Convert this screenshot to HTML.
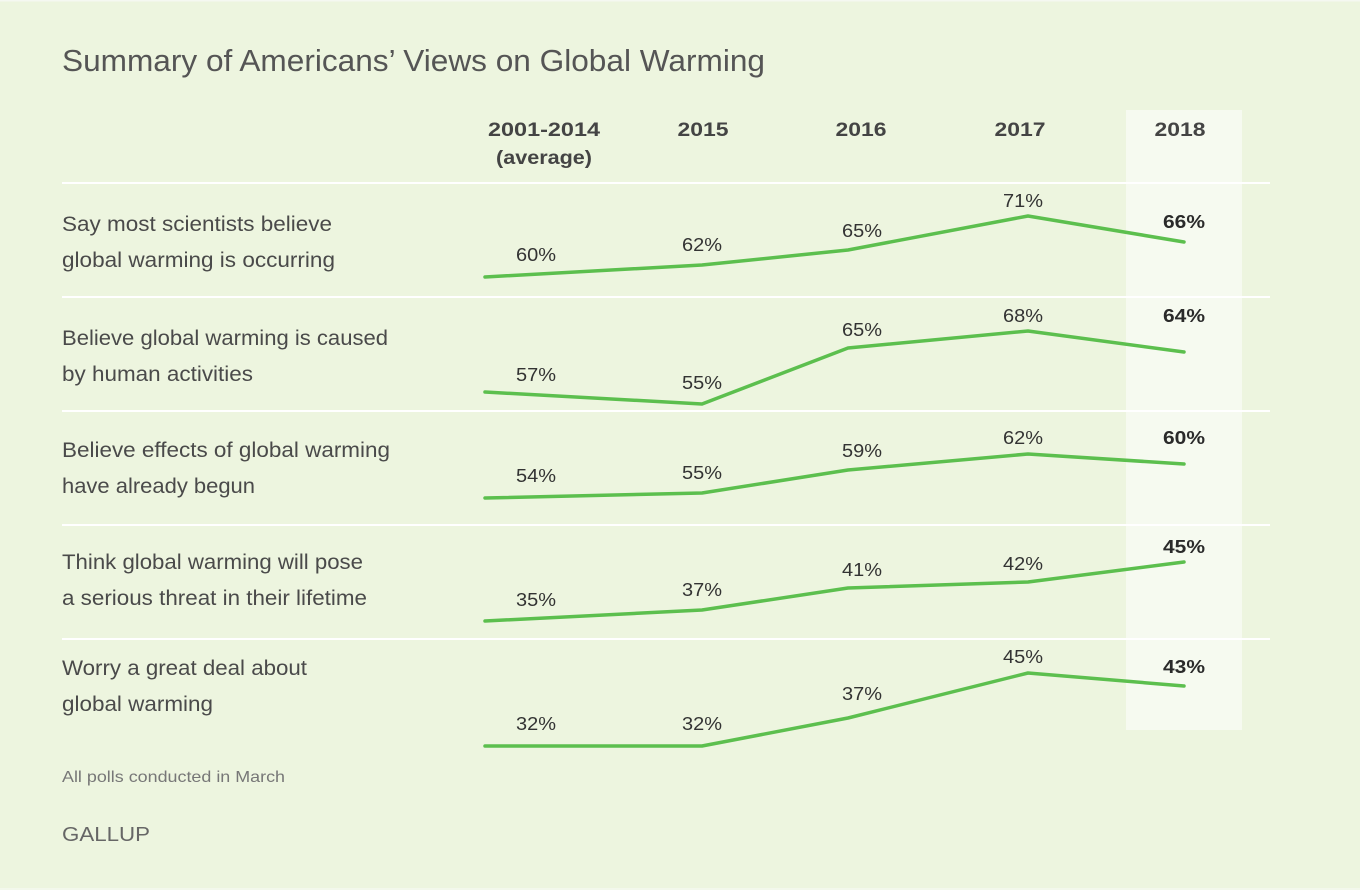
<!DOCTYPE html>
<html><head><meta charset="utf-8"><style>
html,body{margin:0;padding:0;width:1360px;height:890px;overflow:hidden;background:#EDF5DF;}
svg{display:block;}
</style></head><body>
<svg width="1360" height="890" viewBox="0 0 1360 890" xmlns="http://www.w3.org/2000/svg" font-family="'Liberation Sans', sans-serif">
<rect x="0" y="0" width="1360" height="890" fill="#EDF5DF"/>
<rect x="0" y="0" width="1360" height="1.5" fill="#F5F8F1"/>
<rect x="0" y="888" width="1360" height="2" fill="#F3F8EC"/>
<rect x="1126" y="110" width="116" height="620" fill="#F6FAF0"/>
<text x="62" y="71" font-size="31" fill="#555" textLength="703" lengthAdjust="spacingAndGlyphs">Summary of Americans’ Views on Global Warming</text>
<g font-weight="bold" font-size="19" fill="#444" text-anchor="middle">
<text x="544" y="136" textLength="112" lengthAdjust="spacingAndGlyphs">2001-2014</text>
<text x="544" y="164" textLength="96" lengthAdjust="spacingAndGlyphs">(average)</text>
<text x="703" y="136" textLength="51" lengthAdjust="spacingAndGlyphs">2015</text>
<text x="861" y="136" textLength="51" lengthAdjust="spacingAndGlyphs">2016</text>
<text x="1020" y="136" textLength="51" lengthAdjust="spacingAndGlyphs">2017</text>
<text x="1180" y="136" textLength="51" lengthAdjust="spacingAndGlyphs">2018</text>
</g>
<g stroke="#FFFFFF" stroke-width="2">
<line x1="62" y1="183" x2="1270" y2="183"/>
<line x1="62" y1="297" x2="1270" y2="297"/>
<line x1="62" y1="411" x2="1270" y2="411"/>
<line x1="62" y1="525" x2="1270" y2="525"/>
<line x1="62" y1="639" x2="1270" y2="639"/>
</g>
<g font-size="21" fill="#4a4a4a" lengthAdjust="spacingAndGlyphs">
<text x="62" y="231" textLength="270" lengthAdjust="spacingAndGlyphs">Say most scientists believe</text>
<text x="62" y="267" textLength="273" lengthAdjust="spacingAndGlyphs">global warming is occurring</text>
<text x="62" y="345" textLength="326" lengthAdjust="spacingAndGlyphs">Believe global warming is caused</text>
<text x="62" y="381" textLength="191" lengthAdjust="spacingAndGlyphs">by human activities</text>
<text x="62" y="457" textLength="328" lengthAdjust="spacingAndGlyphs">Believe effects of global warming</text>
<text x="62" y="493" textLength="193" lengthAdjust="spacingAndGlyphs">have already begun</text>
<text x="62" y="569" textLength="301" lengthAdjust="spacingAndGlyphs">Think global warming will pose</text>
<text x="62" y="605" textLength="305" lengthAdjust="spacingAndGlyphs">a serious threat in their lifetime</text>
<text x="62" y="675" textLength="245" lengthAdjust="spacingAndGlyphs">Worry a great deal about</text>
<text x="62" y="711" textLength="151" lengthAdjust="spacingAndGlyphs">global warming</text>
</g>
<g fill="none" stroke="#5CBF4E" stroke-width="3.5" stroke-linejoin="round" stroke-linecap="round">
<polyline points="485,277 702,265 848,250 1028,216 1184,242"/>
<polyline points="485,392 702,404 848,348 1028,331 1184,352"/>
<polyline points="485,498 702,493 848,470 1028,454 1184,464"/>
<polyline points="485,621 702,610 848,588 1028,582 1184,562"/>
<polyline points="485,746 702,746 848,718 1028,673 1184,686"/>
</g>
<g font-size="18.5" fill="#333" text-anchor="middle">
<text x="536" y="261" textLength="40" lengthAdjust="spacingAndGlyphs">60%</text>
<text x="702" y="251" textLength="40" lengthAdjust="spacingAndGlyphs">62%</text>
<text x="862" y="237" textLength="40" lengthAdjust="spacingAndGlyphs">65%</text>
<text x="1023" y="207" textLength="40" lengthAdjust="spacingAndGlyphs">71%</text>

<text x="536" y="381" textLength="40" lengthAdjust="spacingAndGlyphs">57%</text>
<text x="702" y="389" textLength="40" lengthAdjust="spacingAndGlyphs">55%</text>
<text x="862" y="336" textLength="40" lengthAdjust="spacingAndGlyphs">65%</text>
<text x="1023" y="322" textLength="40" lengthAdjust="spacingAndGlyphs">68%</text>

<text x="536" y="482" textLength="40" lengthAdjust="spacingAndGlyphs">54%</text>
<text x="702" y="479" textLength="40" lengthAdjust="spacingAndGlyphs">55%</text>
<text x="862" y="457" textLength="40" lengthAdjust="spacingAndGlyphs">59%</text>
<text x="1023" y="444" textLength="40" lengthAdjust="spacingAndGlyphs">62%</text>

<text x="536" y="606" textLength="40" lengthAdjust="spacingAndGlyphs">35%</text>
<text x="702" y="596" textLength="40" lengthAdjust="spacingAndGlyphs">37%</text>
<text x="862" y="576" textLength="40" lengthAdjust="spacingAndGlyphs">41%</text>
<text x="1023" y="570" textLength="40" lengthAdjust="spacingAndGlyphs">42%</text>

<text x="536" y="730" textLength="40" lengthAdjust="spacingAndGlyphs">32%</text>
<text x="702" y="730" textLength="40" lengthAdjust="spacingAndGlyphs">32%</text>
<text x="862" y="700" textLength="40" lengthAdjust="spacingAndGlyphs">37%</text>
<text x="1023" y="663" textLength="40" lengthAdjust="spacingAndGlyphs">45%</text>
</g>
<g font-size="18.5" font-weight="bold" fill="#2a2a2a" text-anchor="middle">
<text x="1184" y="228" textLength="42" lengthAdjust="spacingAndGlyphs">66%</text>
<text x="1184" y="322" textLength="42" lengthAdjust="spacingAndGlyphs">64%</text>
<text x="1184" y="444" textLength="42" lengthAdjust="spacingAndGlyphs">60%</text>
<text x="1184" y="553" textLength="42" lengthAdjust="spacingAndGlyphs">45%</text>
<text x="1184" y="673" textLength="42" lengthAdjust="spacingAndGlyphs">43%</text>
</g>
<text x="62" y="782" font-size="16" fill="#777" textLength="223" lengthAdjust="spacingAndGlyphs">All polls conducted in March</text>
<text x="62" y="841" font-size="20" fill="#666" textLength="88" lengthAdjust="spacingAndGlyphs">GALLUP</text>
</svg>
</body></html>
